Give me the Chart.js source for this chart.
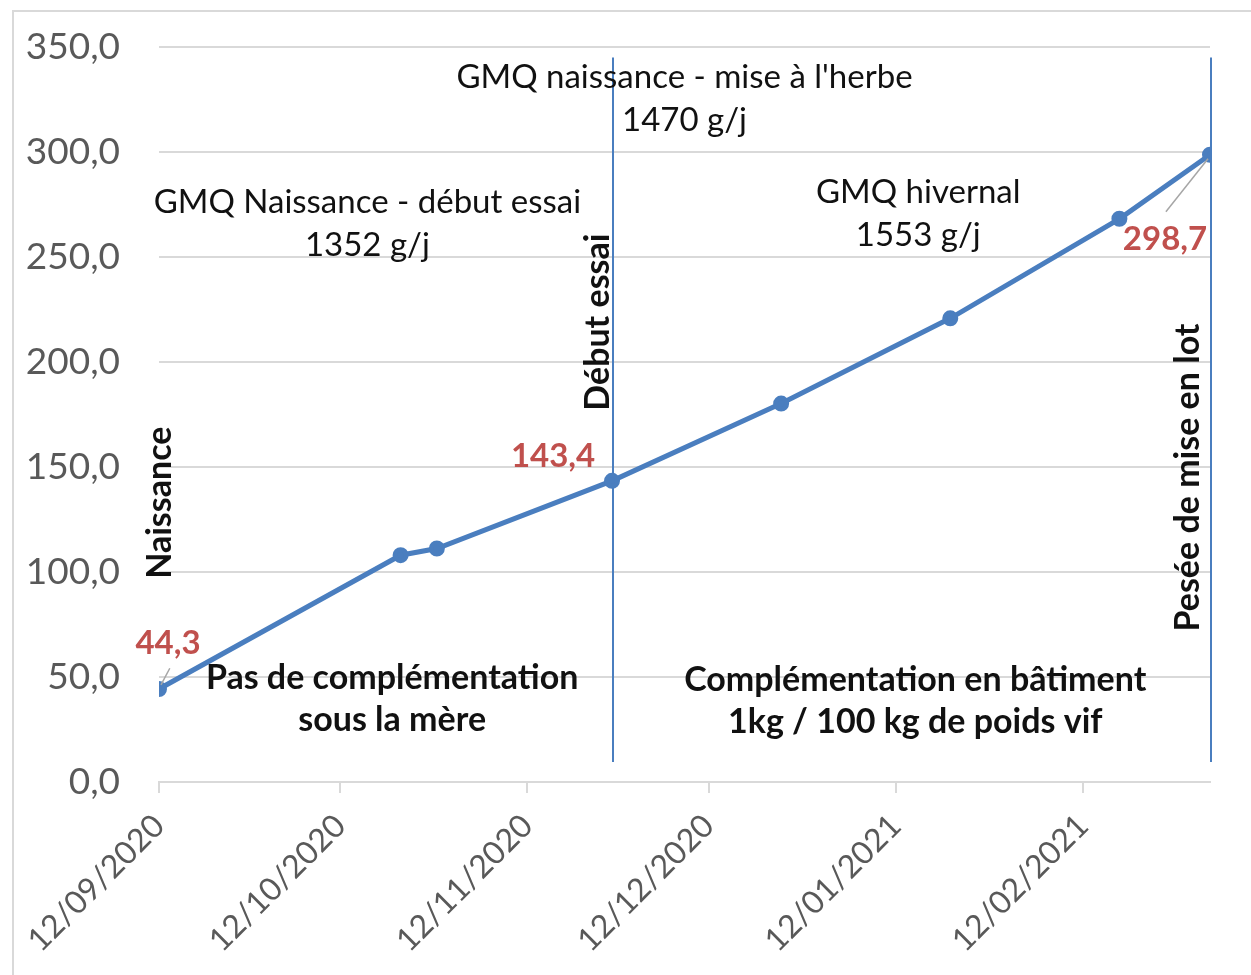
<!DOCTYPE html>
<html>
<head>
<meta charset="utf-8">
<script src="https://cdn.jsdelivr.net/npm/chart.js@4.4.0/dist/chart.umd.min.js"></script>
<style>
  html, body { margin: 0; padding: 0; background: #fff; }
  #wrap { position: relative; width: 1251px; height: 975px; }
  #frame { position: absolute; left: 12px; top: 10px; right: -5px; bottom: -5px;
           border-left: 2px solid #d9d9d9; border-top: 2px solid #d9d9d9; }
  canvas { position: absolute; left: 0; top: 0; }
</style>
</head>
<body>
<div id="wrap">
  <div id="frame"></div>
  <canvas id="chart" width="1251" height="975"></canvas>
</div>
<script>
/* ---------- data ---------- */
const startDate = "2020-09-12";
const weighDates = ["2020-09-12", "2020-10-22", "2020-10-28", "2020-11-26",
                    "2020-12-24", "2021-01-21", "2021-02-18", "2021-03-05"];
const weights = [44.3, 108.0, 111.2, 143.4, 180.2, 220.8, 268.2, 298.7];
const tickDates = ["2020-09-12", "2020-10-12", "2020-11-12",
                   "2020-12-12", "2021-01-12", "2021-02-12"];
const labelledPoints = [0, 3, 7];
const markerDates = ["2020-09-12", "2020-11-26", "2021-03-05"];
const markerLabels = ["Naissance", "Début essai", "Pesée de mise en lot"];
const gmqTexts = [
    ["GMQ Naissance - début essai", "1352 g/j"],
    ["GMQ naissance - mise à l'herbe", "1470 g/j"],
    ["GMQ hivernal", "1553 g/j"]
];
const periodTexts = [
    ["Pas de complémentation", "sous la mère"],
    ["Complémentation en bâtiment", "1kg / 100 kg de poids vif"]
];

/* ---------- helpers ---------- */
const DAY = 86400000;
function toDay(s) {
    return Math.round((Date.parse(s) - Date.parse(startDate)) / DAY);
}
function fmtDate(day) {
    const d = new Date(Date.parse(startDate) + day * DAY);
    const dd = String(d.getUTCDate()).padStart(2, "0");
    const mm = String(d.getUTCMonth() + 1).padStart(2, "0");
    return dd + "/" + mm + "/" + d.getUTCFullYear();
}
const fr = v => v.toFixed(1).replace(".", ",");

const FONT = "Lato, 'Open Sans', sans-serif";
const BLUE = "#4a7ebf";
const RED = "#c0504d";
const GRID = "#d9d9d9";

const points = weighDates.map((d, i) => ({ x: toDay(d), y: weights[i] }));
const tickDays = tickDates.map(toDay);
const lastDay = toDay(weighDates[weighDates.length - 1]);

/* ---------- annotation placement (data units) ---------- */
const gmqPlace = [
    { day: 34.5, value: 276 },
    { day: 87, value: 335.5 },
    { day: 125.7, value: 281 }
];
const periodPlace = [
    { day: 38.6, value: 49.4 },
    { day: 125.2, value: 48.4 }
];
// rotated marker labels: offset in px from the marker line, centre value
const markerPlace = [
    { dx: 1, value: 133 },
    { dx: -14, value: 219 },
    { dx: -22, value: 145 }
];
// data-label offsets (px) and leader lines
const valueLabelOffset = [
    { dx: 9, dy: -46, leader: true },
    { dx: -59, dy: -25, leader: false },
    { dx: -45, dy: 85, leader: true }
];

const annotations = {
    id: "annotations",
    beforeDatasetsDraw(chart) {
        const { ctx, scales: { x, y } } = chart;
        ctx.save();
        ctx.strokeStyle = BLUE;
        ctx.lineWidth = 2;
        markerDates.slice(1).forEach(d => {
            const px = Math.round(x.getPixelForValue(toDay(d))) + 1;
            ctx.beginPath();
            ctx.moveTo(px, y.getPixelForValue(345));
            ctx.lineTo(px, y.getPixelForValue(9.5));
            ctx.stroke();
        });
        ctx.restore();
    },
    afterDatasetsDraw(chart) {
        const { ctx, scales: { x, y } } = chart;
        ctx.save();
        ctx.textAlign = "center";
        ctx.textBaseline = "middle";

        // GMQ texts
        ctx.fillStyle = "#111";
        ctx.font = "33px " + FONT;
        gmqTexts.forEach((lines, i) => {
            const cx = x.getPixelForValue(gmqPlace[i].day);
            const cy = y.getPixelForValue(gmqPlace[i].value);
            lines.forEach((t, j) => ctx.fillText(t, cx, cy + j * 43));
        });

        // period texts
        ctx.font = "bold 34px " + FONT;
        periodTexts.forEach((lines, i) => {
            const cx = x.getPixelForValue(periodPlace[i].day);
            const cy = y.getPixelForValue(periodPlace[i].value);
            lines.forEach((t, j) => ctx.fillText(t, cx, cy + j * 42));
        });

        // rotated markers
        ctx.font = "bold 34px " + FONT;
        markerDates.forEach((d, i) => {
            const cx = x.getPixelForValue(toDay(d)) + markerPlace[i].dx;
            const cy = y.getPixelForValue(markerPlace[i].value);
            ctx.save();
            ctx.translate(cx, cy);
            ctx.rotate(-Math.PI / 2);
            ctx.fillText(markerLabels[i], 0, 0);
            ctx.restore();
        });

        // value labels
        ctx.font = "bold 33px " + FONT;
        labelledPoints.forEach((idx, k) => {
            const px = x.getPixelForValue(points[idx].x);
            const py = y.getPixelForValue(points[idx].y);
            const o = valueLabelOffset[k];
            if (o.leader) {
                ctx.strokeStyle = "#a6a6a6";
                ctx.lineWidth = 1.5;
                ctx.beginPath();
                ctx.moveTo(px + Math.sign(o.dx) * 2, py + Math.sign(o.dy) * 4);
                ctx.lineTo(px + o.dx * (k === 0 ? 1.2 : 0.98), py + o.dy * (k === 0 ? 0.45 : 0.67));
                ctx.stroke();
            }
            ctx.fillStyle = RED;
            ctx.fillText(fr(points[idx].y), px + o.dx, py + o.dy);
        });
        ctx.restore();
    }
};

new Chart(document.getElementById("chart"), {
    type: "line",
    data: {
        datasets: [{
            data: points,
            borderColor: BLUE,
            backgroundColor: BLUE,
            borderWidth: 5,
            pointRadius: 5.5,
            pointHoverRadius: 5.5,
            tension: 0
        }]
    },
    options: {
        responsive: false,
        animation: false,
        events: [],
        layout: { padding: { left: 0, top: 47, right: 41, bottom: 0 } },
        plugins: { legend: { display: false }, tooltip: { enabled: false } },
        scales: {
            x: {
                type: "linear",
                min: 0,
                max: lastDay,
                afterBuildTicks: s => { s.ticks = tickDays.map(v => ({ value: v })); },
                afterFit: s => { s.height = 193; },
                grid: { drawOnChartArea: false, drawTicks: true, tickLength: 11, color: GRID, lineWidth: 2 },
                border: { display: true, color: GRID, width: 2 },
                ticks: {
                    autoSkip: false,
                    minRotation: 45,
                    maxRotation: 45,
                    padding: 14,
                    color: "#595959",
                    font: { family: FONT, size: 32 },
                    callback: v => fmtDate(v)
                }
            },
            y: {
                min: 0,
                max: 350,
                afterFit: s => { s.width = 159; },
                grid: { color: GRID, lineWidth: 2, drawTicks: true, tickLength: 39, tickColor: "rgba(0,0,0,0)" },
                border: { display: false },
                ticks: {
                    stepSize: 50,
                    padding: 0,
                    color: "#595959",
                    font: { family: FONT, size: 37 },
                    callback: v => fr(v)
                }
            }
        }
    },
    plugins: [annotations]
});
</script>
</body>
</html>
